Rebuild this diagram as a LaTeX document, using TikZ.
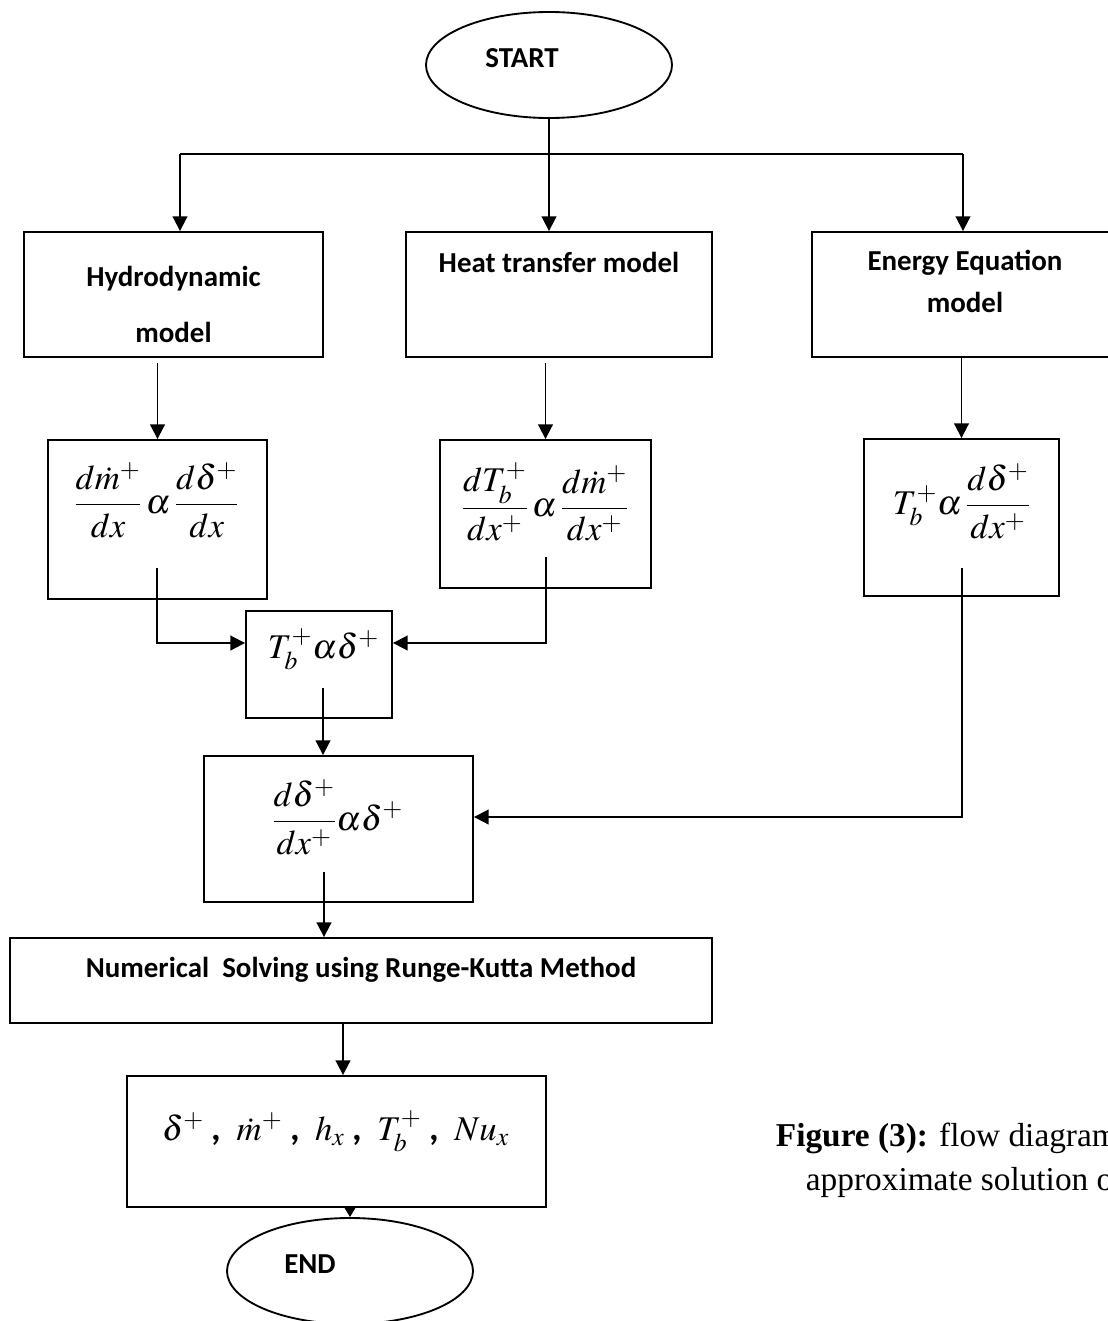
\documentclass[tikz,border=0pt]{standalone}
\usepackage{mathptmx}
\usepackage[no-math]{fontspec}
\setmainfont{Liberation Serif}
\newfontfamily\boxfont{Carlito}
\usetikzlibrary{arrows.meta,shapes.geometric}
\newcommand{\lsep}{\;\mbox{\boxfont\bfseries\fontsize{28}{30}\selectfont ,}\;\;}

\begin{document}
\begin{tikzpicture}[
        x=0.75pt, y=-0.75pt,
        every node/.style={inner sep=0pt},
        proc/.style={draw, rectangle, line width=1.4pt},
        term/.style={draw, ellipse, line width=1.4pt},
        sz/.style 2 args={minimum width=#1*0.75pt, minimum height=#2*0.75pt},
        lbl/.style={anchor=base, font=\boxfont\bfseries\fontsize{21.7}{26}\selectfont},
        eq/.style={font=\fontsize{26}{31}\selectfont},
        captxt/.style={anchor=base west, font=\fontsize{25}{30}\selectfont},
        arr/.style={-{Triangle[length=11pt,width=11pt]}},
        tip/.style={-{Triangle[length=7pt,width=8pt]}},
        line width=1.4pt
    ]
    \useasboundingbox (0,0) rectangle (1107,1321);

    % Start and end
    \node[term, sz={246}{106}] (start) at (549,65) {};
    \node[lbl] (starttxt) at (522,67) {START};
    \node[term, sz={246}{106}] (stop) at (350,1271) {};
    \node[lbl] (stoptxt) at (310,1273) {END};

    % Model boxes
    \node[proc, sz={299}{125}] (hydro) at (173.5,294.5) {};
    \node[proc, sz={306}{125}] (heat) at (559,294.5) {};
    \node[proc, sz={306}{125}] (energy) at (965,294.5) {};
    \node[lbl] (hydrotxt) at (173.5,286) {Hydrodynamic};
    \node[lbl] (hydrotxtb) at (173.5,342) {model};
    \node[lbl] (heattxt) at (559,272) {Heat transfer model};
    \node[lbl] (energytxt) at (965,270) {Energy Equation};
    \node[lbl] (energytxtb) at (965,312) {model};

    % Proportionality boxes
    \node[proc, sz={219}{159}] (eq1) at (157.5,519.5) {};
    \node[proc, sz={211}{148}] (eq2) at (545.5,514) {};
    \node[proc, sz={195}{157}] (eq3) at (961.5,517.5) {};
    \node[eq] (eq1txt) at (156.5,500) {$\displaystyle \frac{d\dot{m}^{+}}{dx}\,\alpha\,\frac{d\delta^{+}}{dx}$};
    \node[eq] (eq2txt) at (545,502) {$\displaystyle \frac{dT_b^{+}}{dx^{+}}\,\alpha\,\frac{d\dot{m}^{+}}{dx^{+}}$};
    \node[eq] (eq3txt) at (961.5,501) {$\displaystyle T_b^{+}\alpha\,\frac{d\delta^{+}}{dx^{+}}$};

    % Combined relations
    \node[proc, sz={146}{107}] (tbox) at (319,664.5) {};
    \node[eq, anchor=base] (tboxtxt) at (323.5,658) {$T_b^{+}\alpha\delta^{+}$};
    \node[proc, sz={269}{146}] (eq4) at (338.5,829) {};
    \node[eq] (eq4txt) at (337.5,817) {$\displaystyle \frac{d\delta^{+}}{dx^{+}}\alpha\delta^{+}$};

    % Solver and results
    \node[proc, sz={702}{85}] (numer) at (361,980.5) {};
    \node[lbl] (numertxt) at (361,977) {Numerical\ \ Solving using Runge-Kutta Method};
    \node[proc, sz={419}{131}] (result) at (336.5,1141.5) {};
    \node[eq, anchor=base] (resulttxt) at (335.5,1140) {$\delta^{+}\lsep\dot{m}^{+}\lsep h_x\lsep T_b^{+}\lsep Nu_x$};

    % Connections start to models
    \coordinate (busL) at (180,154);
    \coordinate (busR) at (963,154);
    \draw (busL) -- (busR);
    \draw[arr] (start.south) -- (start.south |- heat.north);
    \draw[arr] (busL) -- (busL |- hydro.north);
    \draw[arr] (busR) -- (busR |- energy.north);

    % Connections models to relations
    \draw[arr, shorten <=4pt] (eq1.north |- hydro.south) -- (eq1.north);
    \draw[arr, shorten <=4pt] (eq2.north |- heat.south) -- (eq2.north);
    \draw[arr] (eq3.north |- energy.south) -- (eq3.north);

    % Joining lines
    \coordinate (eq1out) at (157,568);
    \coordinate (eq2out) at (546,557);
    \coordinate (eq3out) at (962,568);
    \coordinate (tout) at (323,688);
    \coordinate (eq4out) at (324,872);
    \coordinate (numout) at (343,0);
    \coordinate (rowa) at (0,643);
    \coordinate (rowb) at (0,817);
    \draw[arr] (eq1out) |- (tbox.west |- rowa);
    \draw[arr] (eq2out) |- (tbox.east |- rowa);
    \draw[arr] (tout) -- (tout |- eq4.north);
    \draw[arr] (eq3out) |- (eq4.east |- rowb);
    \draw[arr] (eq4out) -- (eq4out |- numer.north);
    \draw[arr] (numout |- numer.south) -- (numout |- result.north);
    \draw[tip] (stop.north |- result.south) -- (stop.north);

    % Caption
    \node[captxt] (capa) at (775,1146) {\textbf{Figure (3):} flow diagram};
    \node[captxt] (capb) at (805,1190) {approximate solution of};

\end{tikzpicture}
\end{document}
